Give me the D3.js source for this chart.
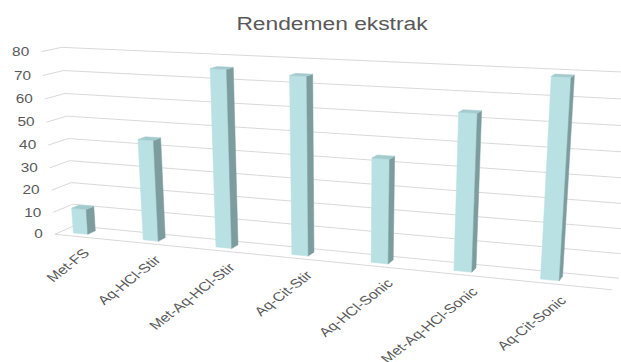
<!DOCTYPE html>
<html>
<head>
<meta charset="utf-8">
<script src="https://cdn.jsdelivr.net/npm/d3@7"></script>
<style>
  body { margin: 0; background: #fff; }
  text { font-family: "Liberation Sans", Arial, sans-serif; fill: #595959; }
</style>
</head>
<body>
<svg width="621" height="362"></svg>
<script>
var categories = ["Met-FS", "Aq-HCl-Stir", "Met-Aq-HCl-Stir", "Aq-Cit-Stir", "Aq-HCl-Sonic", "Met-Aq-HCl-Sonic", "Aq-Cit-Sonic"];
var rendemen = [11.3, 44.2, 75.6, 74.4, 43.3, 63.5, 78.8];
var yTicks = [0, 10, 20, 30, 40, 50, 60, 70, 80];
var title = "Rendemen ekstrak";

var svg = d3.select("svg");

// world: x = category axis (0..7), y = value (0..1), z = depth (0 front .. depth back)
var xBand = d3.scaleBand().domain(categories).range([0, 7]).padding(0);
var yVal = d3.scaleLinear().domain([0, 80]).range([0, 1]);
var depth = 0.5;
var barOff = 0.29, barHalf = 0.105, barZ0 = 0.15, barZ1 = 0.35;

// camera: fitted to where the floor / wall corners sit on screen
var corners = [
  [0, 0, 0, 56, 233], [0, 1, 0, 40, 52], [0, 0, depth, 73, 227], [0, 1, depth, 63, 47],
  [7, 0, 0, 612, 291], [7, 0, depth, 619, 277], [7, 1, depth, 634, 72.6]
];
var rows = [], rhs = [];
corners.forEach(function(c) {
  var x = c[0], y = c[1], z = c[2], u = c[3], v = c[4];
  rows.push([x, y, z, 1, 0, 0, 0, 0, -u*x, -u*y, -u*z]); rhs.push(u);
  rows.push([0, 0, 0, 0, x, y, z, 1, -v*x, -v*y, -v*z]); rhs.push(v);
});

function solve(M, b) {
  var n = b.length;
  for (var i = 0; i < n; i++) {
    var p = i;
    for (var r = i + 1; r < n; r++) if (Math.abs(M[r][i]) > Math.abs(M[p][i])) p = r;
    var t = M[i]; M[i] = M[p]; M[p] = t;
    var tb = b[i]; b[i] = b[p]; b[p] = tb;
    for (var r = i + 1; r < n; r++) {
      var f = M[r][i] / M[i][i];
      for (var c = i; c < n; c++) M[r][c] -= f * M[i][c];
      b[r] -= f * b[i];
    }
  }
  var x = new Array(n);
  for (var i = n - 1; i >= 0; i--) {
    var s = b[i];
    for (var c = i + 1; c < n; c++) s -= M[i][c] * x[c];
    x[i] = s / M[i][i];
  }
  return x;
}
var N = [], Nb = [];
for (var i = 0; i < 11; i++) {
  N.push(new Array(11).fill(0)); Nb.push(0);
}
rows.forEach(function(r, k) {
  for (var i = 0; i < 11; i++) {
    Nb[i] += r[i] * rhs[k];
    for (var j = 0; j < 11; j++) N[i][j] += r[i] * r[j];
  }
});
var P = solve(N, Nb);

function proj(x, y, z) {
  var w = P[8]*x + P[9]*y + P[10]*z + 1;
  return [(P[0]*x + P[1]*y + P[2]*z + P[3]) / w, (P[4]*x + P[5]*y + P[6]*z + P[7]) / w];
}
var line = function(a, b) {
  return "M" + a[0] + "," + a[1] + "L" + b[0] + "," + b[1];
};

var grid = svg.append("g").attr("class", "grid");
yTicks.forEach(function(t) {
  var y = yVal(t);
  grid.append("path").attr("d", line(proj(0, y, 0), proj(0, y, depth)));
  grid.append("path").attr("d", line(proj(0, y, depth), proj(7, y, depth)));
});
grid.append("path").attr("d", line(proj(0, 0, 0), proj(7, 0, 0)));
grid.selectAll("path").attr("fill", "none").attr("stroke", "#d9d9d9").attr("stroke-width", 1);

// bars
var poly = function(pts) { return "M" + pts.map(function(p) { return p.join(","); }).join("L") + "Z"; };
var bars = svg.append("g").selectAll("g").data(categories).enter().append("g");
bars.each(function(c, i) {
  var g = d3.select(this);
  var cx = xBand(c) + barOff, x0 = cx - barHalf, x1 = cx + barHalf, h = yVal(rendemen[i]);
  var front = [proj(x0, 0, barZ0), proj(x1, 0, barZ0), proj(x1, h, barZ0), proj(x0, h, barZ0)];
  var side = [proj(x1, 0, barZ0), proj(x1, 0, barZ1), proj(x1, h, barZ1), proj(x1, h, barZ0)];
  var top = [proj(x0, h, barZ0), proj(x1, h, barZ0), proj(x1, h, barZ1), proj(x0, h, barZ1)];
  g.append("path").attr("d", poly(front)).attr("fill", "#b9e1e4").attr("stroke", "#b9e1e4").attr("stroke-width", 0.5);
  g.append("path").attr("d", poly(side)).attr("fill", "#7c9c9e").attr("stroke", "#7c9c9e").attr("stroke-width", 0.5);
  g.append("path").attr("d", poly(top)).attr("fill", "#a3cbce").attr("stroke", "#a3cbce").attr("stroke-width", 0.5);
});

// value axis labels
yTicks.forEach(function(t) {
  var p = proj(0, yVal(t), 0);
  svg.append("text")
    .attr("transform", "translate(" + (p[0] - 12) + "," + p[1] + ") scale(1.28,1)")
    .attr("text-anchor", "end").attr("dy", "0.35em")
    .style("font-size", "12px").text(t);
});

// category labels
categories.forEach(function(c) {
  var p = proj(xBand(c) + xBand.bandwidth() / 2, 0, 0);
  svg.append("text")
    .attr("transform", "translate(" + (p[0] - 3) + "," + (p[1] + 13) + ") scale(1.28,1) rotate(-45)")
    .attr("text-anchor", "end").attr("dy", "0.35em")
    .style("font-size", "12.5px").text(c);
});

svg.append("text")
  .attr("transform", "translate(332,30) scale(1.2,1)")
  .attr("text-anchor", "middle")
  .style("font-size", "19px").text(title);
</script>
</body>
</html>
